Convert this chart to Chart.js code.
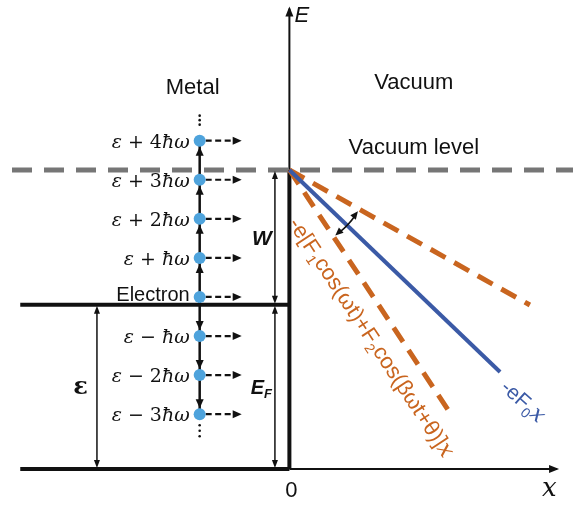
<!DOCTYPE html>
<html>
<head>
<meta charset="utf-8">
<script src="https://cdn.jsdelivr.net/npm/chart.js@4.4.1/dist/chart.umd.min.js"></script>
<style>
  html, body { margin: 0; padding: 0; background: #ffffff; }
  canvas { display: block; }
</style>
</head>
<body>
<canvas id="chart" width="573" height="506"></canvas>
<script>
// Energies in units of the photon energy ħω, distance x in arbitrary units.
const photonEnergy = 1.0;
const fermiEnergy = 4.2;        // E_F, measured from the band bottom
const workFunction = 3.45;      // W
const electronEnergy = 4.4;     // ε
const photonOrders = [4, 3, 2, 1, 0, -1, -2, -3];
const levelLabels = ['ε + 4ħω', 'ε + 3ħω', 'ε + 2ħω', 'ε + ħω', 'Electron', 'ε − ħω', 'ε − 2ħω', 'ε − 3ħω'];
const staticField = 0.71;                 // slope of -eF0·x
const oscillatingFields = [0.416, 1.12];  // weakest / strongest instantaneous slope
const barrierReach = [7.28, 8.31, 5.63];  // x extent: static, weakest, strongest
const regionLabels = ['Metal', 'Vacuum', 'Vacuum level'];
const axisLabels = ['E', 'x', '0'];

const vacuumLevel = fermiEnergy + workFunction;

// Plot window and where the drawing pieces sit inside it
const X_MIN = -10, X_MAX = 9.8, Y_MIN = -0.95, Y_MAX = 12;
const layout = {
  bandLeft: -9.3, ladderX: -3.1, gapArrowX: -0.5, epsArrowX: -6.65,
  xAxisEnd: 9.25, yAxisEnd: 11.78
};

const COLORS = {
  ink: '#111111', grey: '#767676', dot: '#4ea3dc',
  blue: '#3b5aa6', orange: '#c9651f'
};

const ladderPoints = photonOrders.map(k => ({ x: layout.ladderX, y: electronEnergy + k * photonEnergy }));
const barrierLine = (slope, reach) => [
  { x: 0, y: vacuumLevel },
  { x: reach, y: vacuumLevel - slope * reach }
];

function lineSet(data, color, width, extra) {
  return Object.assign({
    type: 'line', data, borderColor: color, borderWidth: width,
    pointRadius: 0, fill: false, tension: 0, borderCapStyle: 'butt'
  }, extra || {});
}

const datasets = [
  { type: 'scatter', data: ladderPoints, pointRadius: 6, pointHoverRadius: 6,
    pointBackgroundColor: COLORS.dot, pointBorderWidth: 0, showLine: false },
  lineSet(barrierLine(staticField, barrierReach[0]), COLORS.blue, 4),
  lineSet(barrierLine(oscillatingFields[0], barrierReach[1]), COLORS.orange, 5, { borderDash: [17, 10] }),
  lineSet(barrierLine(oscillatingFields[1], barrierReach[2]), COLORS.orange, 5, { borderDash: [17, 10] }),
  lineSet([{ x: X_MIN, y: vacuumLevel }, { x: X_MAX, y: vacuumLevel }], COLORS.grey, 5,
          { borderDash: [20, 12], borderDashOffset: 20 }),
  lineSet([{ x: layout.bandLeft, y: fermiEnergy }, { x: 0, y: fermiEnergy }], COLORS.ink, 4),
  lineSet([{ x: layout.bandLeft, y: 0 }, { x: 0, y: 0 }], COLORS.ink, 4),
  lineSet([{ x: 0, y: 0 }, { x: 0, y: vacuumLevel }], COLORS.ink, 4),
  lineSet([{ x: 0, y: 0 }, { x: layout.xAxisEnd, y: 0 }], COLORS.ink, 2),
  lineSet([{ x: 0, y: vacuumLevel }, { x: 0, y: layout.yAxisEnd }], COLORS.ink, 2)
];

// ---- drawing helpers ----
function head(ctx, x, y, angle, len, w) {
  ctx.save();
  ctx.translate(x, y);
  ctx.rotate(angle);
  ctx.beginPath();
  ctx.moveTo(0, 0);
  ctx.lineTo(-len, -w / 2);
  ctx.lineTo(-len, w / 2);
  ctx.closePath();
  ctx.fill();
  ctx.restore();
}

function doubleArrow(ctx, x, y1, y2) {
  ctx.lineWidth = 1.5;
  ctx.beginPath();
  ctx.moveTo(x, y1 + 4);
  ctx.lineTo(x, y2 - 4);
  ctx.stroke();
  head(ctx, x, y1 + 1, -Math.PI / 2, 8, 6);
  head(ctx, x, y2 - 1, Math.PI / 2, 8, 6);
}

function runsWidth(ctx, runs) {
  let w = 0;
  runs.forEach(r => { ctx.font = r.font; w += ctx.measureText(r.t).width; });
  return w;
}

function drawRuns(ctx, runs, x, y, align) {
  const w = runsWidth(ctx, runs);
  let cx = align === 'right' ? x - w : align === 'center' ? x - w / 2 : x;
  ctx.textAlign = 'left';
  ctx.textBaseline = 'alphabetic';
  runs.forEach(r => {
    ctx.font = r.font;
    ctx.fillText(r.t, cx, y + (r.dy || 0));
    cx += ctx.measureText(r.t).width;
  });
}

function mathRuns(str, size) {
  const runs = [];
  for (const ch of str) {
    const italic = /[εħω]/.test(ch);
    const font = (italic ? 'italic ' : '') + size + 'px "DejaVu Serif"';
    const last = runs[runs.length - 1];
    if (last && last.font === font) last.t += ch;
    else runs.push({ t: ch, font });
  }
  return runs;
}

const SANS = '"Liberation Sans", Arial, sans-serif';
const SERIF = '"DejaVu Serif", serif';

const diagram = {
  id: 'diagram',
  beforeDatasetsDraw(chart) {
    const { ctx, scales: { x: sx, y: sy } } = chart;
    const X = v => sx.getPixelForValue(v);
    const Y = v => sy.getPixelForValue(v);
    ctx.save();
    ctx.fillStyle = COLORS.ink;
    ctx.strokeStyle = COLORS.ink;

    // photon absorption / emission ladder
    const lx = X(layout.ladderX);
    photonOrders.forEach(k => {
      const y = Y(electronEnergy + k * photonEnergy);
      if (k !== 0) {
        const s = Math.sign(k);
        const yPrev = Y(electronEnergy + (k - s) * photonEnergy);
        ctx.lineWidth = 2.5;
        ctx.setLineDash([]);
        ctx.beginPath();
        ctx.moveTo(lx, yPrev);
        ctx.lineTo(lx, y);
        ctx.stroke();
        if (s > 0) head(ctx, lx, y + 6, -Math.PI / 2, 9, 8);
        else head(ctx, lx, y - 6, Math.PI / 2, 9, 8);
      }
      // emission channel into vacuum
      ctx.lineWidth = 2.2;
      ctx.setLineDash([6, 3.5]);
      ctx.beginPath();
      ctx.moveTo(lx + 6, y);
      ctx.lineTo(lx + 35, y);
      ctx.stroke();
      ctx.setLineDash([]);
      head(ctx, lx + 42, y, 0, 9, 8);
    });
    ctx.restore();
  },
  afterDatasetsDraw(chart) {
    const { ctx, scales: { x: sx, y: sy } } = chart;
    const X = v => sx.getPixelForValue(v);
    const Y = v => sy.getPixelForValue(v);
    ctx.save();
    ctx.fillStyle = COLORS.ink;
    ctx.strokeStyle = COLORS.ink;

    // axis arrowheads
    head(ctx, X(layout.xAxisEnd) + 2, Y(0), 0, 10, 8);
    head(ctx, X(0), Y(layout.yAxisEnd) - 2, -Math.PI / 2, 10, 8);

    // continuation dots of the ladder
    const lx = X(layout.ladderX);
    const yTop = Y(electronEnergy + photonOrders[0] * photonEnergy);
    const yBot = Y(electronEnergy + photonOrders[photonOrders.length - 1] * photonEnergy);
    [16, 20.5, 25].forEach(d => { ctx.beginPath(); ctx.arc(lx, yTop - d, 1.3, 0, 2 * Math.PI); ctx.fill(); });
    [11, 16.5, 22].forEach(d => { ctx.beginPath(); ctx.arc(lx, yBot + d, 1.3, 0, 2 * Math.PI); ctx.fill(); });

    // energy spans W, E_F and ε
    const gx = X(layout.gapArrowX);
    doubleArrow(ctx, gx, Y(vacuumLevel), Y(fermiEnergy));
    doubleArrow(ctx, gx, Y(fermiEnergy), Y(0));
    const ex = X(layout.epsArrowX);
    doubleArrow(ctx, ex, Y(fermiEnergy), Y(0));

    ctx.fillStyle = COLORS.ink;
    const bi = 'italic bold 21px ' + SANS;
    drawRuns(ctx, [{ t: 'W', font: bi }], gx - 3, (Y(vacuumLevel) + Y(fermiEnergy)) / 2 + 8, 'right');
    drawRuns(ctx, [{ t: 'E', font: 'italic bold 20px ' + SANS },
                   { t: 'F', font: 'italic bold 13px ' + SANS, dy: 4 }],
             gx - 3, (Y(fermiEnergy) + Y(0)) / 2 + 7, 'right');
    drawRuns(ctx, [{ t: 'ε', font: 'bold 24px ' + SERIF }], ex - 9, (Y(fermiEnergy) + Y(0)) / 2 + 7, 'right');

    // level labels
    photonOrders.forEach((k, i) => {
      const y = Y(electronEnergy + k * photonEnergy);
      if (k === 0) {
        drawRuns(ctx, [{ t: levelLabels[i], font: '20px ' + SANS }], lx - 10, y + 4, 'right');
      } else {
        drawRuns(ctx, mathRuns(levelLabels[i], 19), lx - 10, y + 7, 'right');
      }
    });

    // region labels
    ctx.textAlign = 'center';
    ctx.textBaseline = 'middle';
    ctx.font = '22px ' + SANS;
    ctx.fillText(regionLabels[0], X(layout.ladderX) - 7, 88);
    ctx.fillText(regionLabels[1], X(4.3), 83);
    ctx.fillText(regionLabels[2], X(4.3), Y(vacuumLevel) - 22);

    // axis labels
    ctx.textAlign = 'left';
    ctx.font = 'italic 22px ' + SANS;
    ctx.fillText(axisLabels[0], X(0) + 5, Y(layout.yAxisEnd) + 7);
    ctx.font = 'italic 26px ' + SERIF;
    ctx.fillText(axisLabels[1], X(layout.xAxisEnd) - 15, Y(0) + 20);
    ctx.textAlign = 'center';
    ctx.font = '22px ' + SANS;
    ctx.fillText(axisLabels[2], X(0) + 2, Y(0) + 22);

    // angular swing of the oscillating barrier
    const ox = X(0), oy = Y(vacuumLevel);
    const r = 80, a0 = 31 * Math.PI / 180, a1 = 55 * Math.PI / 180;
    ctx.lineWidth = 1.6;
    ctx.beginPath();
    ctx.arc(ox, oy, r, a0 + 0.06, a1 - 0.06);
    ctx.stroke();
    head(ctx, ox + r * Math.cos(a0), oy + r * Math.sin(a0), a0 - Math.PI / 2 + 0.12, 8, 7);
    head(ctx, ox + r * Math.cos(a1), oy + r * Math.sin(a1), a1 + Math.PI / 2 - 0.12, 8, 7);

    // rotated barrier formulas
    const strong = barrierLine(oscillatingFields[1], barrierReach[2]);
    const ang1 = Math.atan2(Y(strong[1].y) - oy, X(strong[1].x) - ox);
    ctx.save();
    ctx.translate(ox, oy);
    ctx.rotate(ang1);
    ctx.fillStyle = COLORS.orange;
    const of = '22px ' + SANS, os = '14px ' + SANS;
    const orangeRuns = [
      { t: '-e[F', font: of }, { t: '1', font: os, dy: 5 },
      { t: 'cos(ωt)+F', font: of }, { t: '2', font: os, dy: 5 },
      { t: 'cos(βωt+θ)]', font: of }, { t: 'x', font: 'italic 23px ' + SERIF }
    ];
    drawRuns(ctx, orangeRuns, 44, 31, 'left');
    ctx.restore();

    const stat = barrierLine(staticField, barrierReach[0]);
    const ex2 = X(stat[1].x), ey2 = Y(stat[1].y);
    const ang0 = Math.atan2(ey2 - oy, ex2 - ox);
    ctx.save();
    ctx.translate(ex2, ey2);
    ctx.rotate(ang0 - 0.03);
    ctx.fillStyle = COLORS.blue;
    drawRuns(ctx, [{ t: '-eF', font: '21px ' + SANS }, { t: '0', font: '14px ' + SANS, dy: 5 },
                   { t: 'x', font: 'italic 22px ' + SERIF }], 11, 13, 'left');
    ctx.restore();

    ctx.restore();
  }
};

new Chart(document.getElementById('chart'), {
  type: 'scatter',
  data: { datasets },
  options: {
    responsive: false,
    devicePixelRatio: 1,
    animation: false,
    events: [],
    layout: { padding: 0, autoPadding: false },
    plugins: { legend: { display: false }, tooltip: { enabled: false } },
    scales: {
      x: { type: 'linear', min: X_MIN, max: X_MAX, display: false },
      y: { type: 'linear', min: Y_MIN, max: Y_MAX, display: false }
    }
  },
  plugins: [diagram]
});
</script>
</body>
</html>
